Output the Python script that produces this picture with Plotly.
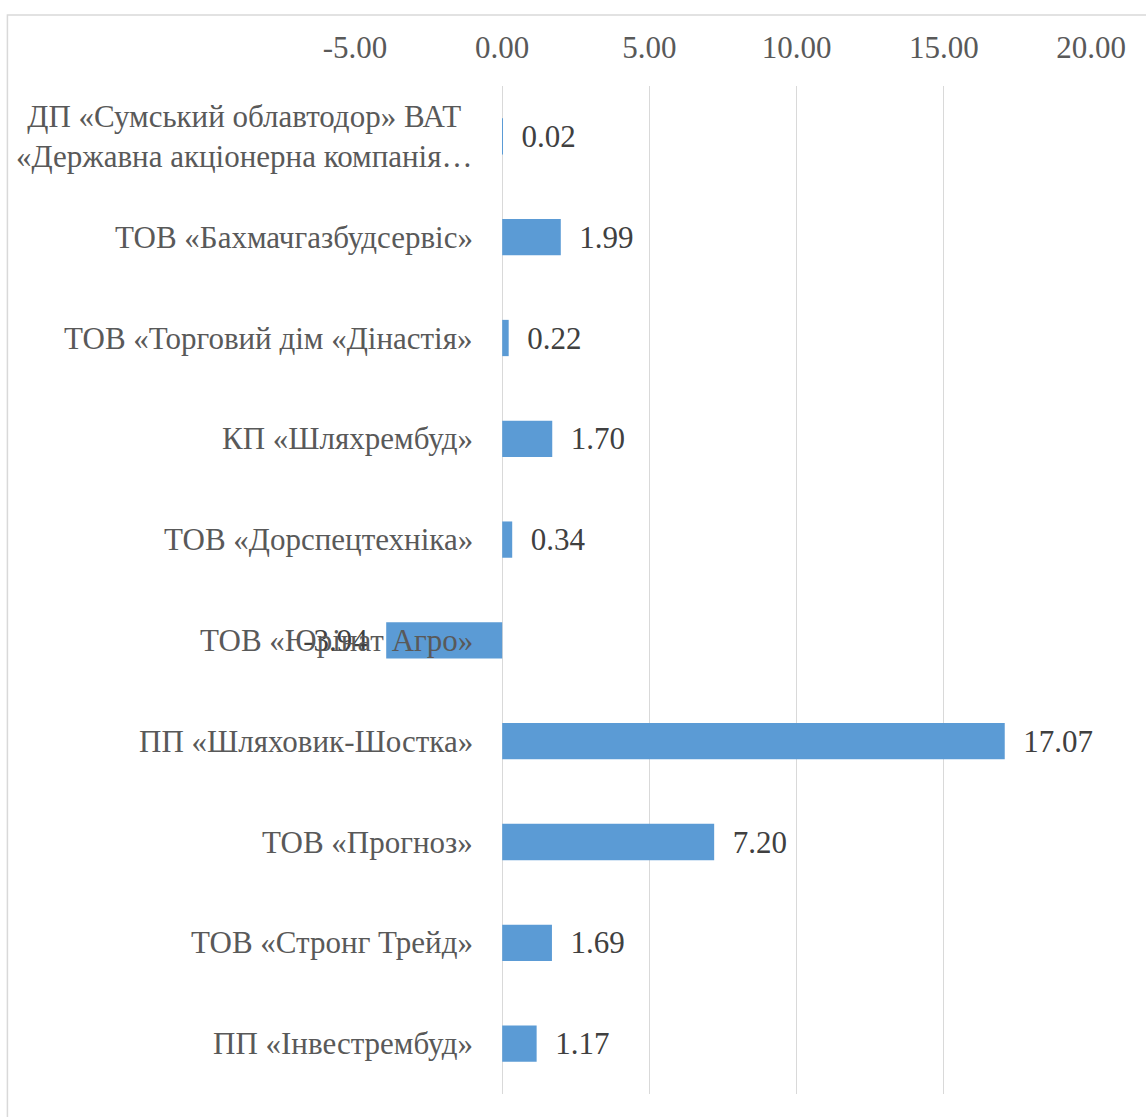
import plotly.graph_objects as go

categories = [
    "ДП «Сумський облавтодор» ВАТ<br>«Державна акціонерна компанія…",
    "ТОВ «Бахмачгазбудсервіс»",
    "ТОВ «Торговий дім «Дінастія»",
    "КП «Шляхрембуд»",
    "ТОВ «Дорспецтехніка»",
    "ТОВ «Юрінат Агро»",
    "ПП «Шляховик-Шостка»",
    "ТОВ «Прогноз»",
    "ТОВ «Стронг Трейд»",
    "ПП «Інвестрембуд»",
]
values = [0.02, 1.99, 0.22, 1.70, 0.34, -3.94, 17.07, 7.20, 1.69, 1.17]
x_ticks = [-5, 0, 5, 10, 15, 20]
x_tick_labels = ["-5.00", "0.00", "5.00", "10.00", "15.00", "20.00"]

W, H = 1146, 1117
L, R, T, B = 355.4, W - 1091.0, 86.0, H - 1094.0
x_min, x_max = -5, 20

labels = [("\u2002" + f"{v:.2f}") if v >= 0 else (f"{v:.2f}" + "\u2002") for v in values]

FONT = "Liberation Serif, Times New Roman, serif"
FS = 31

fig = go.Figure(go.Bar(
    x=values,
    y=categories,
    orientation="h",
    width=0.36,
    marker=dict(color="#5B9BD5", line=dict(width=0)),
    text=labels,
    textposition="outside",
    cliponaxis=False,
    constraintext="none",
    textfont=dict(family=FONT, size=FS, color="#404040"),
    hoverinfo="skip",
))

# category labels, centred multi-line text placed left of the zero line
for cat in categories:
    fig.add_annotation(
        x=0, y=cat, xref="x", yref="y",
        text=cat, showarrow=False,
        xanchor="right", yanchor="middle",
        xshift=-27, align="center",
        font=dict(family=FONT, size=FS, color="#595959"),
    )

plot_w = W - L - R
plot_h = H - T - B

fig.update_layout(
    width=W, height=H,
    template="none",
    margin=dict(l=L, r=R, t=T, b=B, pad=0),
    paper_bgcolor="white",
    plot_bgcolor="white",
    showlegend=False,
    font=dict(family=FONT, color="#595959", size=FS),
    xaxis=dict(
        side="top",
        range=[x_min, x_max],
        tickmode="array",
        tickvals=x_ticks,
        ticktext=x_tick_labels,
        showgrid=True,
        gridcolor="#D9D9D9",
        gridwidth=1,
        zeroline=False,
        showline=False,
        ticks="",
        tickfont=dict(family=FONT, size=FS, color="#595959"),
        automargin=False,
        ticklabelstandoff=21,
        fixedrange=True,
    ),
    yaxis=dict(
        autorange="reversed",
        showgrid=False,
        zeroline=False,
        showline=False,
        showticklabels=False,
        ticks="",
        automargin=False,
        fixedrange=True,
    ),
    shapes=[dict(
        type="rect", xref="paper", yref="paper",
        x0=(8 - L) / plot_w, x1=(W + 20 - L) / plot_w,
        y0=-(B + 20) / plot_h, y1=(H - B - 15) / plot_h,
        line=dict(color="#D9D9D9", width=1.5),
        fillcolor="rgba(0,0,0,0)",
        layer="below",
    )],
)

fig.write_html("out.html")
